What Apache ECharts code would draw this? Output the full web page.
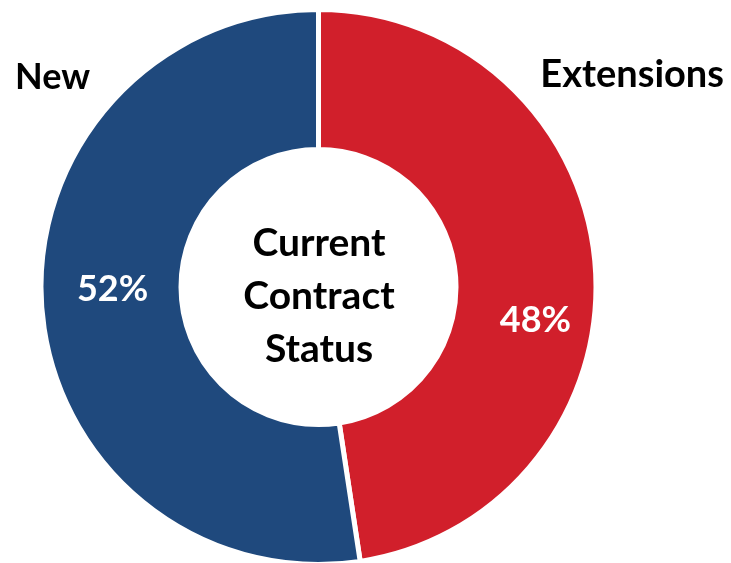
<!DOCTYPE html>
<html>
<head>
<meta charset="utf-8">
<script src="https://cdn.jsdelivr.net/npm/echarts@6/dist/echarts.min.js"></script>
<style>
  html, body { margin: 0; padding: 0; background: #fff; }
  #chart { width: 731px; height: 563px; }
</style>
</head>
<body>
<div id="chart"></div>
<script>
// chart data
const categories = ['Extensions', 'New'];
// shares (printed rounded: 48% / 52%)
const shares = [47.6, 52.4];
const colors = ['#d11f2b', '#1f497d'];
const centerTitle = ['Current', 'Contract', 'Status'];

const FONT = 'Lato';
const chart = echarts.init(document.getElementById('chart'));

// nudge inside labels toward where the original places them
const labelNudge = [[7, 49], [4, -13]];

const option = {
  backgroundColor: '#ffffff',
  animation: false,
  graphic: [
    {
      type: 'text',
      left: 15, top: 59,
      style: { text: categories[1], fontFamily: FONT, fontWeight: 'bold', fontSize: 36, fill: '#000' }
    },
    {
      type: 'text',
      right: 7, top: 56,
      style: { text: categories[0], fontFamily: FONT, fontWeight: 'bold', fontSize: 38, fill: '#000' }
    },
    {
      type: 'text',
      x: 319, y: 296,
      style: {
        text: centerTitle.join('\n'),
        fontFamily: FONT, fontWeight: 'bold', fontSize: 39, lineHeight: 53,
        fill: '#000', align: 'center', verticalAlign: 'middle'
      }
    }
  ],
  series: [
    {
      type: 'pie',
      center: [318.5, 287],
      radius: [137.5, 277.5],
      startAngle: 90,
      clockwise: true,
      itemStyle: { borderColor: '#fff', borderWidth: 5 },
      label: {
        show: true,
        position: 'inside',
        formatter: p => Math.round(p.value) + '%',
        color: '#fff',
        fontFamily: FONT,
        fontWeight: 'bold',
        fontSize: 36
      },
      labelLayout: p => ({ dx: labelNudge[p.dataIndex][0], dy: labelNudge[p.dataIndex][1] }),
      labelLine: { show: false },
      emphasis: { disabled: true },
      data: categories.map((name, i) => ({ name, value: shares[i], itemStyle: { color: colors[i] } }))
    }
  ]
};
chart.setOption(option);
</script>
</body>
</html>
